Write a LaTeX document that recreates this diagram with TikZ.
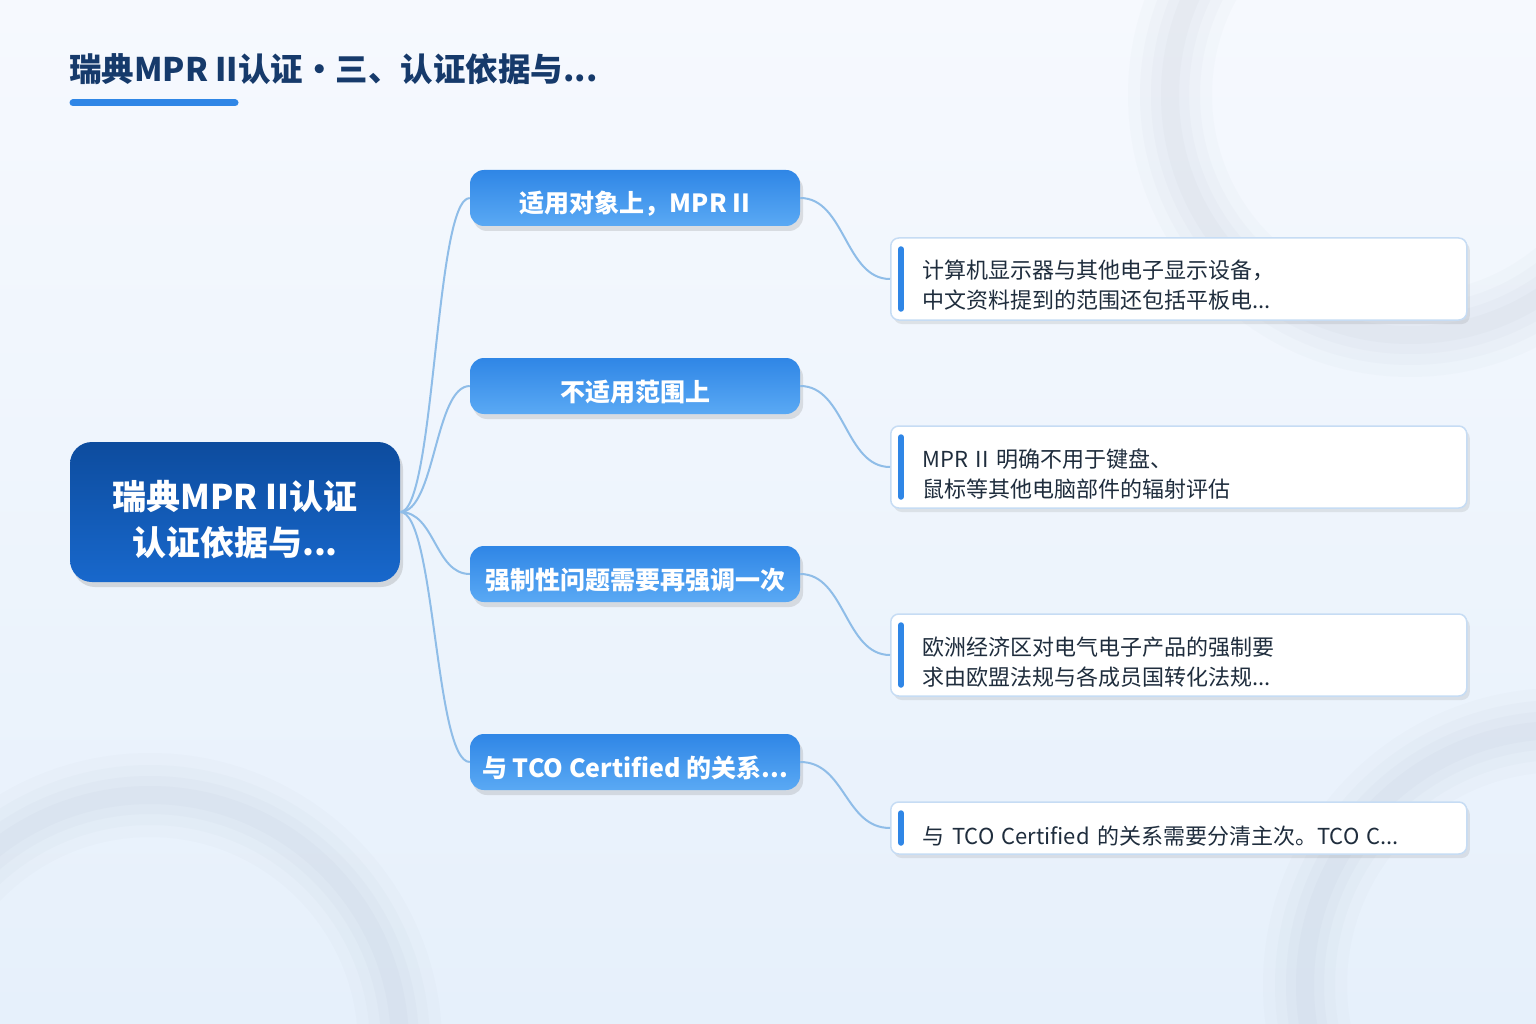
\documentclass[tikz,border=0pt]{standalone}
\usepackage{fontspec}
\setmainfont{Noto Sans CJK SC}
\usepackage{tikz}
\usetikzlibrary{calc}
\usetikzlibrary{positioning}
\usetikzlibrary{shadows}

\definecolor{titleblue}{HTML}{163A6B}
\definecolor{rootTop}{HTML}{0D4C9E}
\definecolor{rootBottom}{HTML}{1868CC}
\definecolor{branchTop}{HTML}{2F86E6}
\definecolor{branchBottom}{HTML}{5AA9F4}
\definecolor{linkblue}{HTML}{8FBDE8}
\definecolor{leafborder}{HTML}{C6DCF4}
\definecolor{leaftext}{HTML}{1F2D3D}
\definecolor{accentblue}{HTML}{2F86E6}
\definecolor{bgTop}{HTML}{F6F9FE}
\definecolor{bgBottom}{HTML}{E6F0FB}
\definecolor{ringgray}{HTML}{8E9AAE}

% move text down inside its box, box size unchanged
\newcommand{\dropby}[2]{\raisebox{-#1}[\height][\depth]{#2}}

\begin{document}
\begin{tikzpicture}[x=1pt,y=-1pt]
\tikzstyle{rootbox}=[rectangle,rounded corners=22pt,minimum width=330pt,minimum height=140pt,align=center,text=white,font=\fontsize{34}{46}\selectfont\bfseries,top color=rootTop,bottom color=rootBottom,drop shadow={shadow xshift=3pt,shadow yshift=-5pt,opacity=0.25}]
\tikzstyle{branchbox}=[rectangle,rounded corners=14pt,minimum width=330pt,minimum height=56pt,align=center,text=white,font=\fontsize{25}{30}\selectfont\bfseries,top color=branchTop,bottom color=branchBottom,drop shadow={shadow xshift=3pt,shadow yshift=-5pt,opacity=0.22}]
\tikzstyle{leafbox}=[rectangle,rounded corners=8pt,draw=leafborder,line width=1.5pt,fill=white,anchor=west,text width=512pt,inner xsep=32pt,align=left,text=leaftext,font=\fontsize{22}{30}\selectfont,drop shadow={shadow xshift=3pt,shadow yshift=-4pt,opacity=0.17}]
\tikzstyle{link}=[linkblue,line width=2pt]
\tikzstyle{accent}=[accentblue,line width=6pt,line cap=round]

% background
\useasboundingbox (0,0) rectangle (1536,1024);
\fill[top color=bgTop,bottom color=bgBottom] (0,0) rectangle (1536,1024);
\begin{scope}
\clip (0,0) rectangle (1536,1024);
\foreach \w/\o in {84/0.03,60/0.035,38/0.04,18/0.045}{
  \draw[ringgray,line width=\w pt,opacity=\o] (1410,95) circle[radius=240];
  \draw[ringgray,line width=\w pt,opacity=\o] (150,1045) circle[radius=250];
  \draw[ringgray,line width=\w pt,opacity=\o] (1560,985) circle[radius=255];
}
\end{scope}

% title
\node[anchor=base west,inner sep=0pt,text=titleblue,font=\fontsize{32.5}{36}\selectfont\bfseries] (title) at (69,82) {瑞典MPR II认证・三、认证依据与...};
\draw[accentblue,line width=7pt,line cap=round] (73,103) -- (235,103);

% mind map
\node[rootbox] (root) at (235,512) {\dropby{11pt}{\begin{tabular}{@{}c@{}}瑞典MPR II认证\\认证依据与...\end{tabular}}};

\node[branchbox] (b1) at (635,198) {\dropby{6pt}{适用对象上，MPR II}};
\node[branchbox] (b2) at (635,386) {\dropby{6pt}{不适用范围上}};
\node[branchbox] (b3) at (635,574) {\dropby{6pt}{强制性问题需要再强调一次}};
\node[branchbox] (b4) at (635,762) {\dropby{6pt}{与 TCO Certified 的关系...}};

\node[leafbox,minimum height=82pt] (l1) at (890,279) {\dropby{9pt}{\begin{tabular}{@{}l@{}}计算机显示器与其他电子显示设备，\\中文资料提到的范围还包括平板电...\end{tabular}}};
\node[leafbox,minimum height=82pt] (l2) at (890,467) {\dropby{9pt}{\begin{tabular}{@{}l@{}}MPR II 明确不用于键盘、\\鼠标等其他电脑部件的辐射评估\end{tabular}}};
\node[leafbox,minimum height=82pt] (l3) at (890,655) {\dropby{9pt}{\begin{tabular}{@{}l@{}}欧洲经济区对电气电子产品的强制要\\求由欧盟法规与各成员国转化法规...\end{tabular}}};
\node[leafbox,minimum height=52pt] (l4) at (890,828) {\dropby{8pt}{与 TCO Certified 的关系需要分清主次。TCO C...}};

\foreach \n in {l1,l2,l3,l4}
  \draw[accent] ([xshift=11pt,yshift=-12pt]\n.north west) -- ([xshift=11pt,yshift=12pt]\n.south west);

\foreach \i in {1,2,3,4}{
  \draw[link] (root.east) .. controls +(35,0) and +(-35,0) .. (b\i.west);
  \draw[link] (b\i.east) .. controls +(45,0) and +(-45,0) .. (l\i.west);
}
\end{tikzpicture}
\end{document}
